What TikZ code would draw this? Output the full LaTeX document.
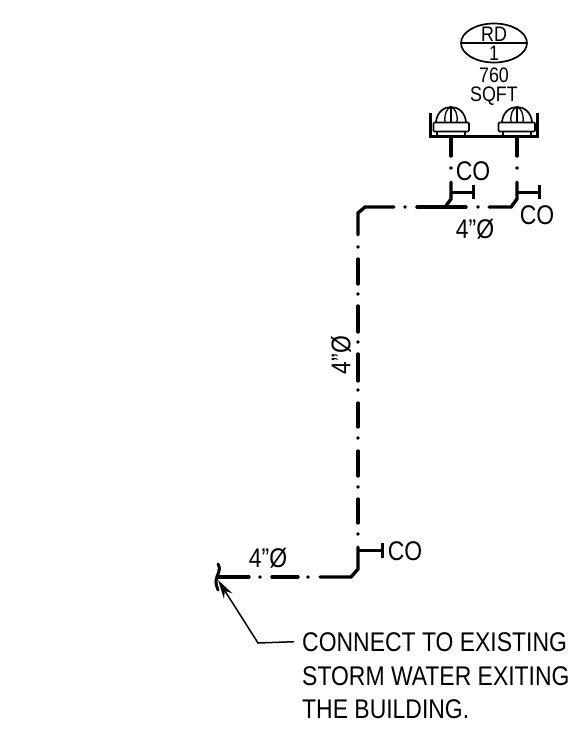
\documentclass[tikz,border=0pt]{standalone}
\usepackage{fontspec}
\setmainfont[FakeStretch=0.85]{Liberation Sans}
\usetikzlibrary{arrows.meta}
\tikzset{
  pipe/.style={line width=3.4pt,line cap=round},
  stub/.style={line width=3pt},
  thin line/.style={line width=1.7pt},
  big label/.style={font=\fontsize{27}{27}\selectfont,inner sep=0pt},
  small label/.style={font=\fontsize{21}{21}\selectfont,inner sep=0pt}
}
\newcommand{\pipesize}{4\char34 Ø}
\begin{document}
\begin{tikzpicture}[x=1pt,y=-1pt]
\useasboundingbox (0,0) rectangle (576,729);

% roof drain tag
\draw[thin line] (494,43) ellipse [x radius=33, y radius=19.5];
\draw[thin line] (461,43) -- (527,43);
\node[small label,anchor=base] (rdtag) at (494,41) {RD};
\node[small label,anchor=base] (rdnum) at (494,60) {1};
\node[small label,anchor=base] (area) at (494,82) {760};
\node[small label,anchor=base] (areaunit) at (494,101) {SQFT};

% tray under the drains
\draw[line width=3pt] (430.5,113) -- (430.5,136.5) -- (537,136.5) -- (537,113);

% left drain
\draw[thin line] (436,122) .. controls (437,112) and (444,107) .. (451,107) .. controls (458,107) and (465,112) .. (466,122);
\draw[line width=1.3pt] (445,122) .. controls (444,114) and (447,108) .. (451,107) .. controls (455,108) and (458,114) .. (457,122);
\draw[line width=1.3pt] (451,107) -- (451,122);
\draw[thin line,fill=white,rounded corners=1pt] (433.5,122.5) rectangle (469,131.5);
\draw[thin line] (437,131.5) -- (437,136) (465,131.5) -- (465,136);

% right drain
\draw[thin line] (502,122) .. controls (503,112) and (510,107) .. (517,107) .. controls (524,107) and (531,112) .. (532,122);
\draw[line width=1.3pt] (511,122) .. controls (510,114) and (513,108) .. (517,107) .. controls (521,108) and (524,114) .. (523,122);
\draw[line width=1.3pt] (517,107) -- (517,122);
\draw[thin line,fill=white,rounded corners=1pt] (498.5,122.5) rectangle (535,131.5);
\draw[thin line] (503,131.5) -- (503,136) (531,131.5) -- (531,136);

% drops from the drains
\draw[pipe] (451,138) -- (451,156);
\fill (451,168) circle (1.9);
\draw[pipe] (451,182) -- (451,199) -- (445,207);
\draw[pipe] (517,138) -- (517,156);
\fill (517,168) circle (1.9);
\draw[pipe] (517,182) -- (517,199) -- (511,207) -- (489,207);

% cleanouts at the top
\draw[stub] (451,192) -- (473,192);
\draw[stub] (473,185) -- (473,199);
\draw[stub] (517,192) -- (539,192);
\draw[stub] (539,185) -- (539,199);
\node[big label] (coa) at (473,171) {CO};
\node[big label] (cob) at (537,215) {CO};

% branch run
\draw[pipe] (466,207) -- (417,207);
\fill (478,207) circle (1.9);
\fill (405,207) circle (1.9);
\node[big label] (sizea) at (475,229) {\pipesize};

% main run, top corner
\draw[pipe] (394,207) -- (365,207) -- (358,213) -- (358,235);

% main run, long vertical
\fill (358,247) circle (1.9);
\draw[pipe] (358,259) -- (358,284);
\fill (358,294) circle (1.9);
\draw[pipe] (358,306) -- (358,332);
\fill (358,342) circle (1.9);
\draw[pipe] (358,354) -- (358,381);
\fill (358,390) circle (1.9);
\draw[pipe] (358,403) -- (358,427);
\fill (358,438) circle (1.9);
\draw[pipe] (358,451) -- (358,476);
\fill (358,487) circle (1.9);
\draw[pipe] (358,499) -- (358,523);
\fill (358,534) circle (1.9);
\node[big label,rotate=90] (sizeb) at (341,355) {\pipesize};

% main run, bottom corner
\draw[pipe] (358,547) -- (358,569) -- (351,577) -- (320,577);
\fill (308,577) circle (1.9);
\draw[pipe] (298,577) -- (272,577);
\fill (260,577) circle (1.9);
\draw[pipe] (249,577) -- (218,577);
\node[big label] (sizec) at (268,558) {\pipesize};

% bottom cleanout
\draw[stub] (358,550) -- (382,550);
\draw[stub] (382,543) -- (382,558);
\node[big label] (coc) at (405,551) {CO};

% break mark
\draw[line width=3pt,line cap=round] (218,564) .. controls (222,571) and (216,575) .. (216,581) .. controls (216,585) and (217,587) .. (218,590);

% note with leader
\node[big label,anchor=base west] (connect) at (302,651) {CONNECT TO EXISTING};
\node[big label,anchor=base west] (storm) at (302,685) {STORM WATER EXITING};
\node[big label,anchor=base west] (building) at (302,718) {THE BUILDING.};
\coordinate (leadertip) at (218,580);
\coordinate (leaderbend) at (258,643);
\draw[line width=1.5pt,-{Stealth[length=19pt,width=10pt]}] ([xshift=-8pt]connect.west) -- (leaderbend) -- (leadertip);

\end{tikzpicture}
\end{document}
